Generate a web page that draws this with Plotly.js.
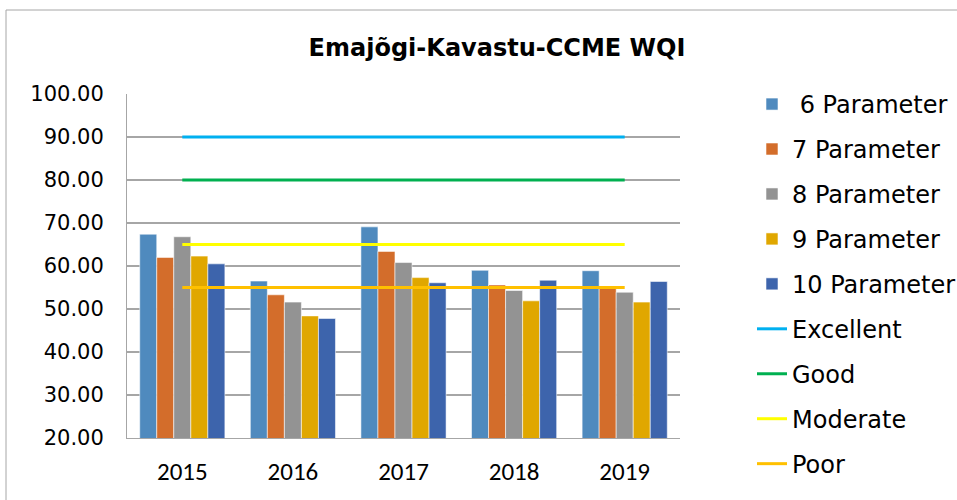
<!DOCTYPE html>
<html><head><meta charset="utf-8">
<script src="https://cdn.plot.ly/plotly-3.0.1.min.js"></script>
<style>html,body{margin:0;padding:0;background:#fff}#chart{width:957px;height:500px}</style>
</head><body><div id="chart"></div>
<script>
const years = ["2015", "2016", "2017", "2018", "2019"];
const p6 = [67.4, 56.5, 69.1, 59.0, 58.9];
const p7 = [62.0, 53.3, 63.4, 55.6, 55.0];
const p8 = [66.8, 51.6, 60.8, 54.3, 53.9];
const p9 = [62.3, 48.4, 57.3, 51.9, 51.6];
const p10 = [60.5, 47.8, 56.1, 56.7, 56.4];
const excellent = [90, 90, 90, 90, 90];
const good = [80, 80, 80, 80, 80];
const moderate = [65, 65, 65, 65, 65];
const poor = [55, 55, 55, 55, 55];
const tickVals = [20, 30, 40, 50, 60, 70, 80, 90, 100];
const tickText = ["20.00", "30.00", "40.00", "50.00", "60.00", "70.00", "80.00", "90.00", "100.00"];

const barSeries = [
  {name: " 6 Parameter", y: p6, color: "#4F8ABE"},
  {name: "7 Parameter", y: p7, color: "#D36D2B"},
  {name: "8 Parameter", y: p8, color: "#939393"},
  {name: "9 Parameter", y: p9, color: "#E0A700"},
  {name: "10 Parameter", y: p10, color: "#3D64AC"}
];
const lineSeries = [
  {name: "Excellent", y: excellent, color: "#00B0F0"},
  {name: "Good", y: good, color: "#00B050"},
  {name: "Moderate", y: moderate, color: "#FFFF00"},
  {name: "Poor", y: poor, color: "#FFC000"}
];
const traces = [];
barSeries.forEach((s, i) => traces.push({
  type: "bar", name: s.name, x: years, y: s.y, legendgroup: "g" + i,
  marker: {color: s.color, line: {color: "rgba(255,255,255,0.55)", width: 1}}
}));
lineSeries.forEach((s, i) => traces.push({
  type: "scatter", mode: "lines", name: s.name, x: years, y: s.y, legendgroup: "l" + i,
  line: {color: s.color, width: 3}
}));

const font = "DejaVu Sans, Verdana, sans-serif";
const tickFontX = "Carlito, 'Open Sans', sans-serif";
const layout = {
  width: 957, height: 500,
  margin: {l: 127, r: 277, t: 94, b: 62, autoexpand: false},
  paper_bgcolor: "#fff", plot_bgcolor: "#fff",
  font: {family: font, size: 20, color: "#000"},
  title: {text: "<b>Emajõgi-Kavastu-CCME WQI</b>", font: {family: font, size: 24, color: "#000"},
    x: (497 - 127) / 553, xref: "paper", xanchor: "center", y: 1 - 48/500, yref: "container", yanchor: "middle"},
  barmode: "group", bargap: 0.23, bargroupgap: 0,
  xaxis: {type: "category", showgrid: false, showline: true, linecolor: "#A6A6A6", linewidth: 1,
    ticks: "", tickfont: {family: tickFontX, size: 25, color: "#000"}, ticklabelstandoff: 11},
  yaxis: {range: [20, 100], tickvals: tickVals, ticktext: tickText, showgrid: true, gridcolor: "#A6A6A6",
    gridwidth: 1.5, showline: true, linecolor: "#A6A6A6", zeroline: false, ticks: "",
    tickfont: {family: font, size: 21, color: "#000"}, ticklabelstandoff: 18},
  legend: {x: (752 - 127) / 553, xref: "paper", y: 1.035, yanchor: "top", tracegroupgap: 10.75,
    maxheight: 480, font: {family: font, size: 24, color: "#000"}, bgcolor: "rgba(0,0,0,0)"},
  shapes: [{type: "rect", xref: "paper", yref: "paper",
    x0: (6 - 127)/553, x1: (1000 - 127)/553, y0: (438 - 520)/344, y1: (438 - 10)/344,
    line: {color: "#A6A6A6", width: 1}, fillcolor: "rgba(0,0,0,0)", layer: "below"}]
};
Plotly.newPlot("chart", traces, layout, {displayModeBar: false});
</script></body></html>
